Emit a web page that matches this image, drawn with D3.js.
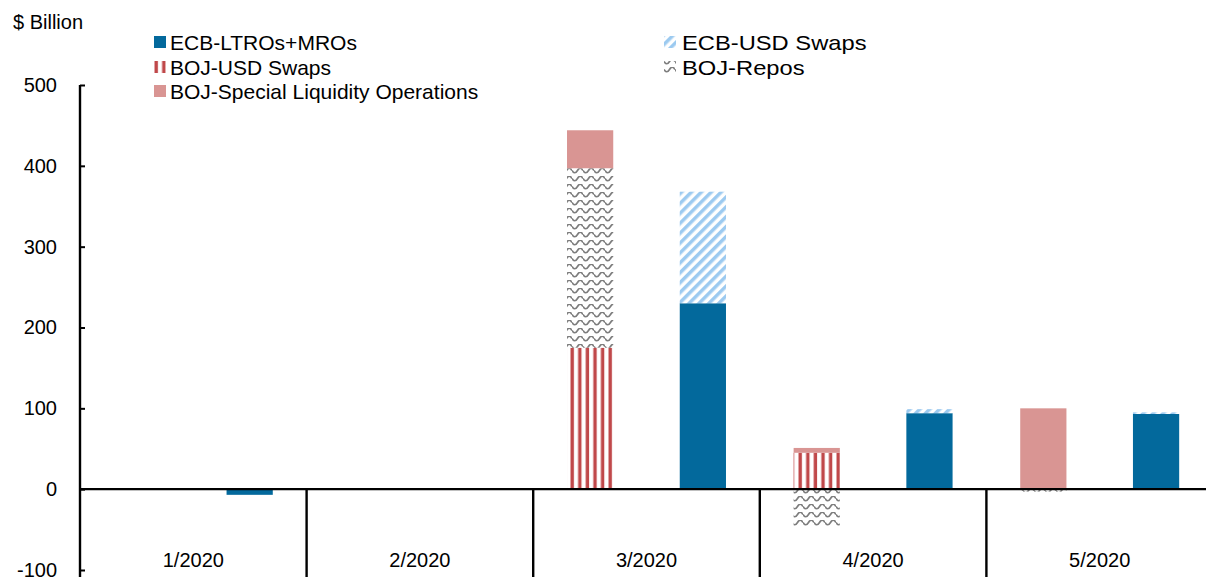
<!DOCTYPE html>
<html>
<head>
<meta charset="utf-8">
<script src="https://cdn.jsdelivr.net/npm/d3@7"></script>
<style>
  body { margin: 0; background: #fff; }
  text { font-family: "Liberation Sans", Arial, sans-serif; fill: #000; }
</style>
</head>
<body>
<svg id="chart"></svg>
<script>
const width = 1206;
const height = 577;

// DATA ($ Billion)
const months = ["1/2020", "2/2020", "3/2020", "4/2020", "5/2020"];
const ecbLtro = [-7, 0, 230, 94, 93];
const ecbUsd = [0, 0, 138, 5, 2];
const bojUsd = [0, 0, 175, 45, 0];
const bojRepos = [0, 0, 222, -47, -3];
const bojSlo = [0, 0, 47, 6, 100];
const yTicks = [-100, 0, 100, 200, 300, 400, 500];

const series = [
  {key: "ecbLtro", name: "ECB-LTROs+MROs", group: "ECB", values: ecbLtro, fill: "#03699c"},
  {key: "ecbUsd", name: "ECB-USD Swaps", group: "ECB", values: ecbUsd, fill: "url(#diag)"},
  {key: "bojUsd", name: "BOJ-USD Swaps", group: "BOJ", values: bojUsd, fill: "url(#vert)"},
  {key: "bojRepos", name: "BOJ-Repos", group: "BOJ", values: bojRepos, fill: "url(#wave)"},
  {key: "bojSlo", name: "BOJ-Special Liquidity Operations", group: "BOJ", values: bojSlo, fill: "#d99593"}
];

const rows = months.map((m, i) => {
  const r = {month: m};
  series.forEach(s => r[s.key] = s.values[i]);
  return r;
});

const svg = d3.select("#chart")
  .attr("width", width)
  .attr("height", height);

// PATTERNS
const defs = svg.append("defs");
const diag = defs.append("pattern")
  .attr("id", "diag").attr("patternUnits", "userSpaceOnUse")
  .attr("width", 7).attr("height", 7)
  .attr("patternTransform", "rotate(45)");
diag.append("rect").attr("width", 7).attr("height", 7).attr("fill", "#fff");
diag.append("rect").attr("width", 3.5).attr("height", 7).attr("fill", "#9ccaf0");

const vert = defs.append("pattern")
  .attr("id", "vert").attr("patternUnits", "userSpaceOnUse")
  .attr("width", 7.6).attr("height", 10);
vert.append("rect").attr("width", 7.6).attr("height", 10).attr("fill", "#fff");
vert.append("rect").attr("x", 0.5).attr("width", 3.4).attr("height", 10).attr("fill", "#c0484a");

const wave = defs.append("pattern")
  .attr("id", "wave").attr("patternUnits", "userSpaceOnUse")
  .attr("width", 11).attr("height", 8);
wave.append("rect").attr("width", 11).attr("height", 8).attr("fill", "#fff");
wave.append("path")
  .attr("d", "M0,2.5 Q2.75,7 5.5,2.5 T11,2.5")
  .attr("fill", "none").attr("stroke", "#7d7d7d").attr("stroke-width", 1.7);

// SCALES
const x = d3.scaleBand()
  .domain(months)
  .range([80, 1213]);

const xInner = d3.scaleBand()
  .domain(["BOJ", "ECB"])
  .range([0, x.bandwidth()])
  .paddingInner(0.59)
  .paddingOuter(0.3);

const y = d3.scaleLinear()
  .domain([-100, 500])
  .range([570, 85]);

// STACKS
const stackFor = group => d3.stack()
  .keys(series.filter(s => s.group === group).map(s => s.key))
  .offset(d3.stackOffsetDiverging)(rows);

["BOJ", "ECB"].forEach(group => {
  stackFor(group).forEach(layer => {
    const s = series.find(d => d.key === layer.key);
    svg.append("g")
      .selectAll("rect")
      .data(layer)
      .enter()
      .append("rect")
        .attr("x", d => x(d.data.month) + xInner(group))
        .attr("width", xInner.bandwidth())
        .attr("y", d => y(Math.max(d[0], d[1])))
        .attr("height", d => Math.abs(y(d[0]) - y(d[1])))
        .attr("fill", s.fill);
  });
});

// Y AXIS
const yAxis = d3.axisLeft(y)
  .tickValues(yTicks)
  .tickFormat(d => String(d))
  .tickSize(-5)
  .tickSizeOuter(0)
  .tickPadding(23);

svg.append("g")
  .attr("transform", "translate(80, 0)")
  .call(yAxis)
  .call(g => g.select(".domain").remove())
  .call(g => g.selectAll(".tick line").attr("stroke", "#000").attr("stroke-width", 2))
  .call(g => g.selectAll(".tick text")
    .style("font-size", "20px")
    .style("font-family", "Liberation Sans, Arial, sans-serif"));

svg.append("line")
  .attr("x1", 80).attr("x2", 80)
  .attr("y1", y(500)).attr("y2", height)
  .attr("stroke", "#000").attr("stroke-width", 2.4);

// zero line + category separators
svg.append("line")
  .attr("x1", 80).attr("x2", width)
  .attr("y1", y(0)).attr("y2", y(0))
  .attr("stroke", "#000").attr("stroke-width", 2.4);

svg.append("g")
  .selectAll("line")
  .data(months.slice(1))
  .enter()
  .append("line")
    .attr("x1", d => x(d)).attr("x2", d => x(d))
    .attr("y1", y(0)).attr("y2", height)
    .attr("stroke", "#000").attr("stroke-width", 2.4);

svg.append("g")
  .selectAll("text")
  .data(months)
  .enter()
  .append("text")
    .attr("x", d => x(d) + x.bandwidth() / 2)
    .attr("y", 567)
    .style("text-anchor", "middle")
    .style("font-size", "20px")
    .text(d => d);

// UNIT LABEL
svg.append("text")
  .attr("x", 13)
  .attr("y", 29)
  .style("font-size", "20px")
  .text("$ Billion");

// LEGEND
const legendOrder = ["ecbLtro", "ecbUsd", "bojUsd", "bojRepos", "bojSlo"];
const legendPos = [[154, 42], [664, 42], [154, 67], [664, 67], [154, 91]];
const legend = svg.append("g")
  .selectAll("g")
  .data(legendOrder.map(k => series.find(s => s.key === k)))
  .enter()
  .append("g")
    .attr("transform", (d, i) => `translate(${legendPos[i][0]}, ${legendPos[i][1]})`);

legend.append("rect")
  .attr("x", 0).attr("y", -6)
  .attr("width", 12).attr("height", 12)
  .attr("fill", d => d.fill);

// right-hand legend column is drawn a little wider in the original
legend.append("text")
  .attr("transform", (d, i) => i % 2 === 1 && i < 4 ? "translate(18,0) scale(1.13,1)" : "translate(16,0)")
  .attr("dy", "0.36em")
  .style("font-size", "21px")
  .text(d => d.name);
</script>
</body>
</html>
